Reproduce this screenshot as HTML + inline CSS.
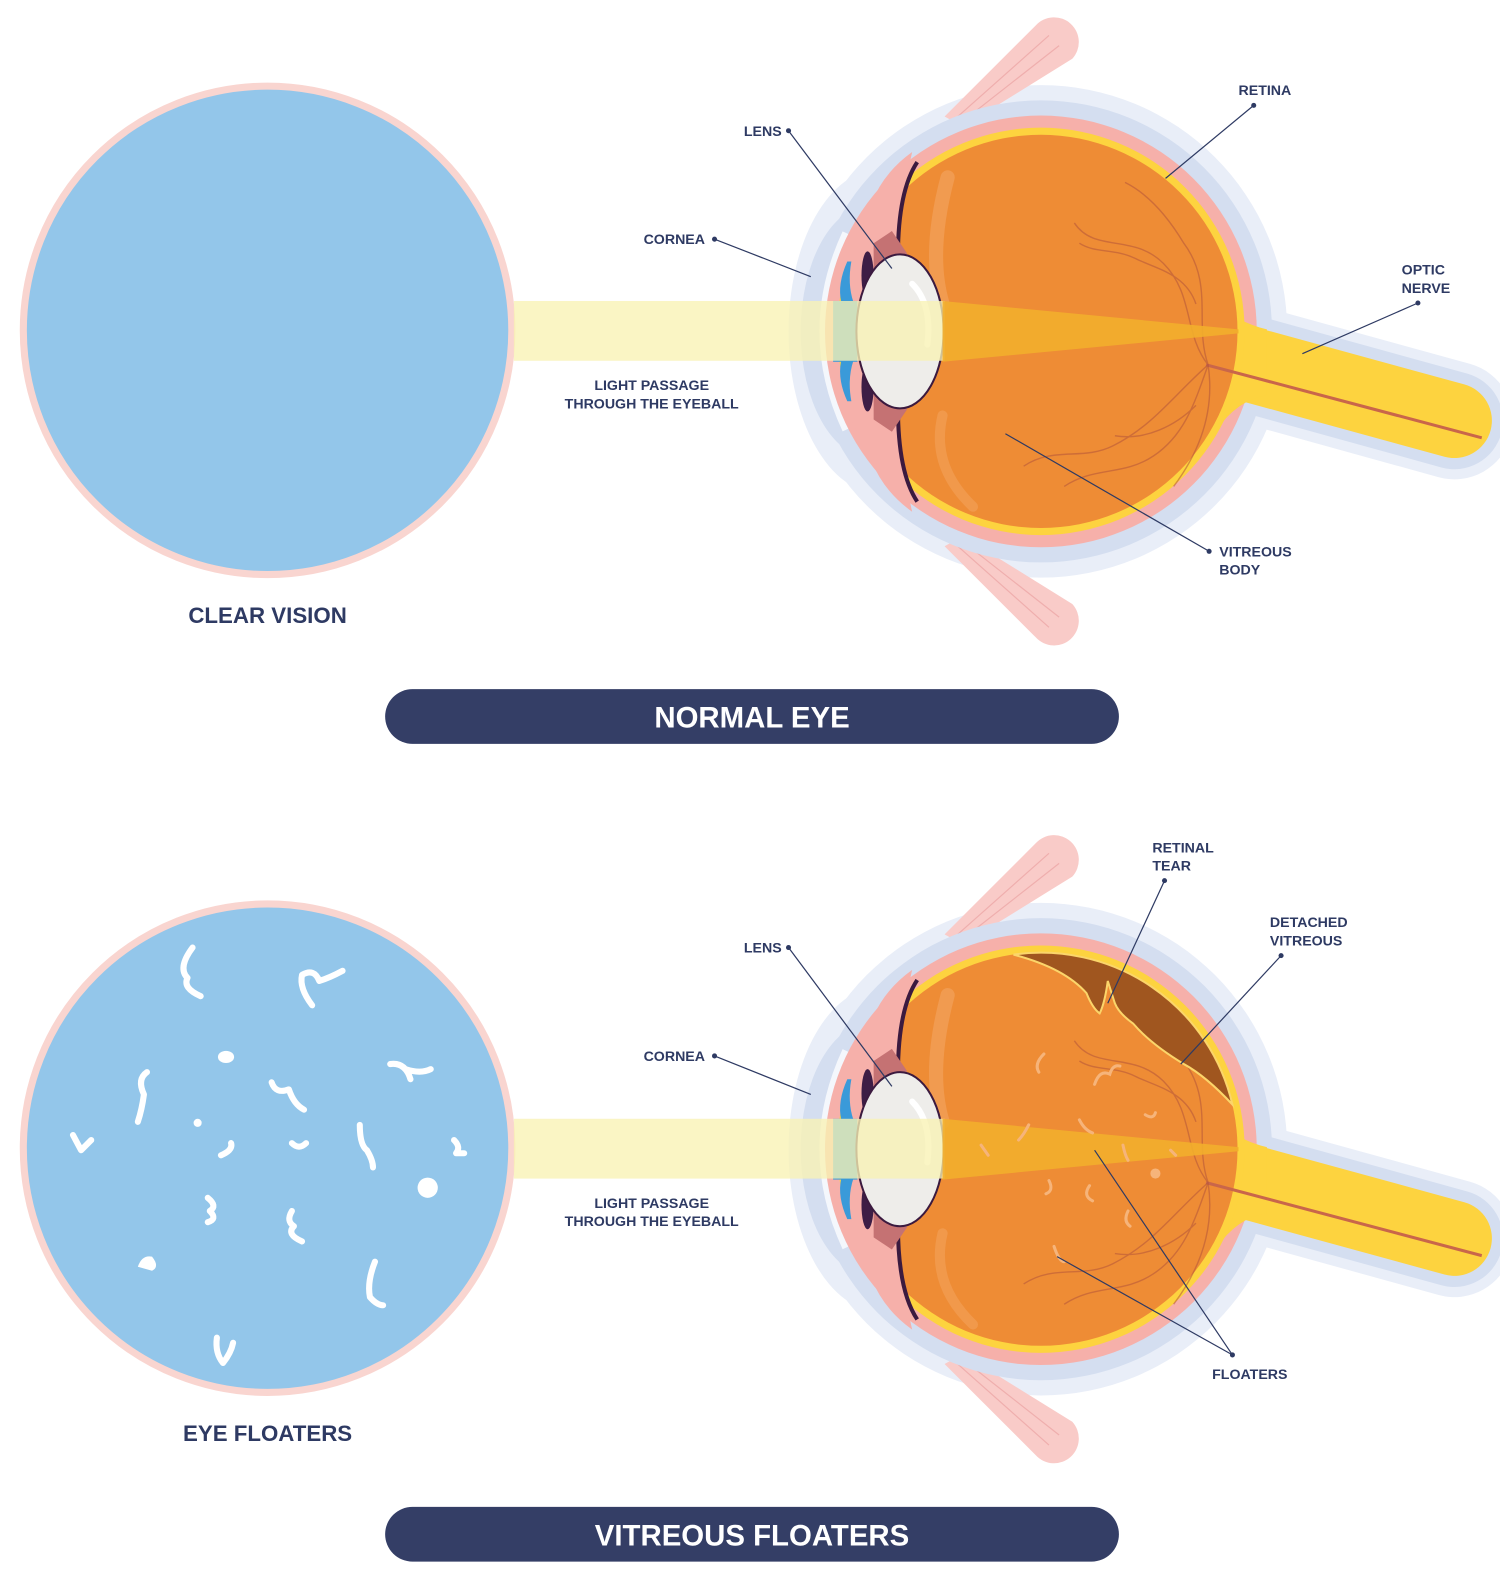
<!DOCTYPE html>
<html><head><meta charset="utf-8"><style>
html,body{margin:0;padding:0;background:#fff}
svg{display:block}
text{font-family:"Liberation Sans",sans-serif;font-weight:bold;fill:#2E3A63}
</style></head><body>
<svg width="1500" height="1589" viewBox="0 0 1480 1568" preserveAspectRatio="none" xmlns="http://www.w3.org/2000/svg">
<defs>
<g id="eye">
  <!-- optic nerve casing -->
  <line x1="1200" y1="350" x2="1435" y2="415" stroke="#E9EEF8" stroke-width="116" stroke-linecap="round"/>
  <!-- outer halo -->
  <circle cx="1027" cy="327" r="243" fill="#E9EEF8"/>
  <ellipse cx="868" cy="327" rx="90" ry="160" fill="#E9EEF8"/>
  <!-- muscles -->
  <path d="M932,115 L1022,25 A24,24 0 0 1 1058,58 L950,125 Z" fill="#F9CBC8"/>
  <path d="M932,539 L1022,629 A24,24 0 0 0 1058,596 L950,529 Z" fill="#F9CBC8"/>
  <g stroke="#EBA3A3" stroke-width="1.2" opacity=".7">
    <line x1="945" y1="115" x2="1035" y2="35"/><line x1="952" y1="118" x2="1045" y2="45"/>
    <line x1="945" y1="539" x2="1035" y2="619"/><line x1="952" y1="536" x2="1045" y2="609"/>
  </g>
  <line x1="1200" y1="350" x2="1435" y2="415" stroke="#D4DEF0" stroke-width="96" stroke-linecap="round"/>
  <circle cx="1027" cy="327" r="228" fill="#D4DEF0"/>
  <ellipse cx="860" cy="327" rx="70" ry="125" fill="#D4DEF0"/>
  <!-- cornea -->
  <path d="M835,230 Q790,327 835,424" fill="none" stroke="#F4F7FC" stroke-width="8"/>
  <!-- choroid -->
  <circle cx="1027" cy="327" r="213" fill="#F6B0AA"/>
  <!-- optic nerve yellow -->
  <line x1="1205" y1="352" x2="1435" y2="415" stroke="#FDD33F" stroke-width="74" stroke-linecap="round"/>
  <path d="M1195,295 Q1220,318 1250,325 L1250,390 Q1220,395 1200,425 Z" fill="#FDD33F"/>
  <!-- retina -->
  <circle cx="1027" cy="327" r="201" fill="#FDD33F"/>
  <!-- vitreous -->
  <circle cx="1027" cy="327" r="194" fill="#EE8C35"/>
  <path d="M935,175 Q915,250 930,300" fill="none" stroke="#F4A562" stroke-width="14" stroke-linecap="round" opacity=".6"/>
  <path d="M930,410 Q918,460 960,500" fill="none" stroke="#F4A562" stroke-width="10" stroke-linecap="round" opacity=".5"/>
  <line x1="1190" y1="360" x2="1462" y2="432" stroke="#C9664A" stroke-width="3"/>
  <!-- vessels -->
  <g fill="none" stroke="#B5553A" stroke-width="1.4" opacity=".55">
    <path d="M1192,360 C1178,320 1198,280 1168,240 C1150,210 1130,190 1110,180"/>
    <path d="M1192,360 C1168,330 1178,290 1148,260 C1118,230 1080,250 1060,220"/>
    <path d="M1192,360 C1178,400 1168,430 1138,450 C1108,470 1080,460 1050,480"/>
    <path d="M1192,360 C1158,390 1138,420 1098,440 C1068,455 1040,440 1010,460"/>
    <path d="M1192,360 C1198,400 1188,440 1158,480"/>
    <path d="M1180,300 C1170,270 1140,265 1120,255 C1100,245 1080,250 1065,240"/>
    <path d="M1180,400 C1160,420 1130,435 1100,430"/>
  </g>
  <!-- front pink -->
  <path d="M900,150 Q872,170 860,200 L835,250 L835,405 L860,455 Q872,485 900,505 Q880,420 886,327 Q880,235 900,150 Z" fill="#F6B0AA"/>
  <path d="M905,160 Q885,190 886,260 M886,395 Q885,465 905,495" fill="none" stroke="#3B1A3F" stroke-width="4"/>
  <!-- ciliary -->
  <path d="M862,240 L880,228 L895,250 L880,270 L862,268 Z" fill="#C57273"/>
  <path d="M862,414 L880,426 L895,404 L880,384 L862,386 Z" fill="#C57273"/>
  <!-- iris -->
  <ellipse cx="856" cy="272" rx="6" ry="24" fill="#3D1D45"/>
  <ellipse cx="856" cy="382" rx="6" ry="24" fill="#3D1D45"/>
  <path d="M836,258 Q826,280 830,298 L842,298 Q836,280 840,258 Z" fill="#3A9AD9"/>
  <path d="M836,396 Q826,374 830,356 L842,356 Q836,374 840,396 Z" fill="#3A9AD9"/>
  <rect x="822" y="297" width="24" height="60" fill="#3A9AD9"/>
  <!-- lens -->
  <ellipse cx="888" cy="327" rx="43" ry="76" fill="#EEEDEA" stroke="#3B1A3F" stroke-width="2"/>
  <path d="M900,280 Q920,300 915,340" fill="none" stroke="#fff" stroke-width="6" stroke-linecap="round"/>
  <!-- light -->
  <rect x="507" y="297" width="425" height="59" fill="#F9F2B4" opacity=".78"/>
  <polygon points="930,297 1222,325 1222,329 930,357" fill="#F2AE2C" opacity=".9"/>
</g>
</defs>

<!-- TOP -->
<circle cx="264" cy="326" r="241" fill="#93C6EA" stroke="#F9D5D0" stroke-width="7"/>
<use href="#eye"/>
<text x="264" y="615" font-size="22" text-anchor="middle">CLEAR VISION</text>
<text x="643" y="385" font-size="14" text-anchor="middle">LIGHT PASSAGE</text>
<text x="643" y="403" font-size="14" text-anchor="middle">THROUGH THE EYEBALL</text>
<rect x="380" y="680" width="724" height="54" rx="27" fill="#343E66"/>
<text x="742" y="718" font-size="29" text-anchor="middle" style="fill:#fff">NORMAL EYE</text>

<g stroke="#2E3A63" stroke-width="1.2" fill="none">
  <line x1="778" y1="129" x2="880" y2="265"/>
  <line x1="705" y1="236" x2="800" y2="273"/>
  <line x1="1237" y1="104" x2="1150" y2="176"/>
  <line x1="1399" y1="299" x2="1285" y2="349"/>
  <line x1="1193" y1="544" x2="992" y2="428"/>
</g>
<g fill="#2E3A63">
  <circle cx="778" cy="129" r="2.5"/><circle cx="705" cy="236" r="2.5"/><circle cx="1237" cy="104" r="2.5"/>
  <circle cx="1399" cy="299" r="2.5"/><circle cx="1193" cy="544" r="2.5"/>
</g>
<text x="734" y="134" font-size="14">LENS</text>
<text x="635" y="241" font-size="14">CORNEA</text>
<text x="1222" y="94" font-size="14">RETINA</text>
<text x="1383" y="271" font-size="14">OPTIC</text>
<text x="1383" y="289" font-size="14">NERVE</text>
<text x="1203" y="549" font-size="14">VITREOUS</text>
<text x="1203" y="567" font-size="14">BODY</text>

<!-- BOTTOM -->
<circle cx="264" cy="1133" r="241" fill="#93C6EA" stroke="#F9D5D0" stroke-width="7"/>
<g fill="none" stroke="#fff" stroke-width="6" stroke-linecap="round" stroke-linejoin="round">
  <path d="M190,935 Q175,955 185,965 Q180,975 198,983"/>
  <path d="M308,992 Q295,975 298,962 Q310,955 315,968 Q325,965 338,958"/>
  <path d="M145,1058 Q135,1065 142,1080 Q140,1095 136,1107"/>
  <path d="M268,1068 Q272,1080 285,1075 Q290,1090 300,1095"/>
  <path d="M385,1050 Q400,1048 405,1065 M400,1055 Q415,1060 425,1055"/>
  <path d="M72,1120 L80,1135 L90,1125"/>
  <path d="M218,1140 Q230,1135 228,1128"/>
  <path d="M288,1128 Q295,1135 302,1128"/>
  <path d="M355,1110 Q355,1130 362,1135 Q368,1145 368,1152"/>
  <path d="M448,1125 Q455,1132 450,1138 L458,1138"/>
  <path d="M205,1182 Q215,1190 207,1195 Q215,1203 205,1206"/>
  <path d="M288,1195 Q282,1205 290,1210 Q282,1218 298,1225"/>
  <path d="M370,1245 Q362,1265 365,1280 Q372,1288 378,1288"/>
  <path d="M214,1320 Q212,1335 220,1345 Q228,1335 230,1325"/>
</g>
<g fill="#fff">
  <ellipse cx="223" cy="1043" rx="8" ry="6"/>
  <circle cx="195" cy="1108" r="4"/>
  <circle cx="422" cy="1172" r="10"/>
  <path d="M136,1250 Q140,1238 150,1240 Q158,1250 150,1254 Z"/>
</g>

<use href="#eye" transform="translate(0,807)"/>
<!-- detached vitreous region -->
<path d="M1000,942 A194,194 0 0 1 1216,1090 Q1190,1062 1168,1050 Q1135,1030 1118,1010 Q1104,1000 1100,990 L1093,968 Q1090,990 1085,1000 Q1078,995 1072,980 Q1050,955 1000,942 Z" fill="#A0561F" stroke="#FBD56A" stroke-width="2"/>
<g fill="none" stroke="#F6B47A" stroke-width="3" stroke-linecap="round">
  <path d="M1030,1040 Q1020,1050 1025,1058"/><path d="M1080,1070 Q1085,1055 1095,1060 Q1098,1050 1105,1052"/>
  <path d="M1130,1100 Q1138,1105 1140,1098"/><path d="M1015,1110 Q1010,1120 1005,1125"/>
  <path d="M1065,1105 Q1070,1115 1078,1118"/><path d="M1108,1130 Q1110,1140 1113,1145"/>
  <path d="M1035,1165 Q1040,1175 1032,1178"/><path d="M1075,1170 Q1068,1180 1078,1185"/>
  <path d="M1113,1195 Q1108,1205 1115,1210"/><path d="M1040,1230 Q1045,1245 1050,1245"/>
  <path d="M968,1130 L975,1140"/><path d="M1155,1135 L1160,1140"/>
</g>
<circle cx="1140" cy="1158" r="5" fill="#F6B47A"/>

<text x="264" y="1422" font-size="22" text-anchor="middle">EYE FLOATERS</text>
<text x="643" y="1192" font-size="14" text-anchor="middle">LIGHT PASSAGE</text>
<text x="643" y="1210" font-size="14" text-anchor="middle">THROUGH THE EYEBALL</text>
<rect x="380" y="1487" width="724" height="54" rx="27" fill="#343E66"/>
<text x="742" y="1525" font-size="29" text-anchor="middle" style="fill:#fff">VITREOUS FLOATERS</text>

<g stroke="#2E3A63" stroke-width="1.2" fill="none">
  <line x1="778" y1="935" x2="880" y2="1072"/>
  <line x1="705" y1="1042" x2="800" y2="1080"/>
  <line x1="1149" y1="869" x2="1093" y2="990"/>
  <line x1="1264" y1="943" x2="1165" y2="1050"/>
  <line x1="1216" y1="1337" x2="1080" y2="1135"/>
  <line x1="1216" y1="1337" x2="1043" y2="1240"/>
</g>
<g fill="#2E3A63">
  <circle cx="778" cy="935" r="2.5"/><circle cx="705" cy="1042" r="2.5"/><circle cx="1149" cy="869" r="2.5"/>
  <circle cx="1264" cy="943" r="2.5"/><circle cx="1216" cy="1337" r="2.5"/>
</g>
<text x="734" y="940" font-size="14">LENS</text>
<text x="635" y="1047" font-size="14">CORNEA</text>
<text x="1137" y="841" font-size="14">RETINAL</text>
<text x="1137" y="859" font-size="14">TEAR</text>
<text x="1253" y="915" font-size="14">DETACHED</text>
<text x="1253" y="933" font-size="14">VITREOUS</text>
<text x="1196" y="1361" font-size="14">FLOATERS</text>
</svg>
</body></html>
